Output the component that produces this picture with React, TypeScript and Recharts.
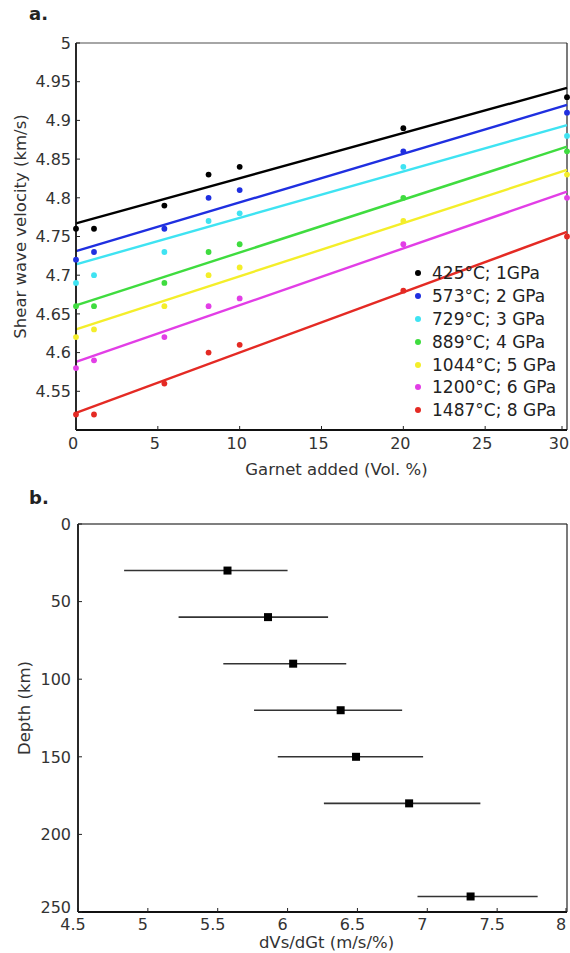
import { ComposedChart, Line, Scatter, XAxis, YAxis, ReferenceLine, Legend, ErrorBar } from 'recharts';

// panel a: shear wave velocity vs garnet added
const garnetAdded = [0, 1.1, 5.4, 8.1, 10, 20, 30];
const seriesNames = ['425°C; 1GPa', '573°C; 2 GPa', '729°C; 3 GPa', '889°C; 4 GPa', '1044°C; 5 GPa', '1200°C; 6 GPa', '1487°C; 8 GPa'];
const seriesColors = ['#000000', '#1f2fe0', '#3fe3f2', '#3fdc3f', '#f4ee2a', '#e23ee6', '#e42a24'];
const vs425 = [4.76, 4.76, 4.79, 4.83, 4.84, 4.89, 4.93];
const vs573 = [4.72, 4.73, 4.76, 4.80, 4.81, 4.86, 4.91];
const vs729 = [4.69, 4.70, 4.73, 4.77, 4.78, 4.84, 4.88];
const vs889 = [4.66, 4.66, 4.69, 4.73, 4.74, 4.80, 4.86];
const vs1044 = [4.62, 4.63, 4.66, 4.70, 4.71, 4.77, 4.83];
const vs1200 = [4.58, 4.59, 4.62, 4.66, 4.67, 4.74, 4.80];
const vs1487 = [4.52, 4.52, 4.56, 4.60, 4.61, 4.68, 4.75];
const velocities = [vs425, vs573, vs729, vs889, vs1044, vs1200, vs1487];
// fitted lines, read at x = 0 and x = 30
const fitRange = [0, 30];
const fitStart = [4.767, 4.731, 4.714, 4.661, 4.630, 4.588, 4.522];
const fitEnd = [4.942, 4.920, 4.894, 4.866, 4.836, 4.808, 4.756];
const velTicks = [4.55, 4.6, 4.65, 4.7, 4.75, 4.8, 4.85, 4.9, 4.95, 5];
const garnetTicks = [0, 5, 10, 15, 20, 25, 30];

// panel b: dVs/dGt vs depth
const depth = [30, 60, 90, 120, 150, 180, 240];
const dVsdGt = [5.57, 5.86, 6.04, 6.38, 6.49, 6.87, 7.31];
const rangeLow = [4.83, 5.22, 5.54, 5.76, 5.93, 6.26, 6.93];
const rangeHigh = [6.00, 6.29, 6.42, 6.82, 6.97, 7.38, 7.79];
const slopeTicks = [4.5, 5, 5.5, 6, 6.5, 7, 7.5, 8];
const depthTicks = [0, 50, 100, 150, 200, 250];

const FONT = '"DejaVu Sans", sans-serif';
const TEXT = '#333';

const series = seriesNames.map((name, i) => ({
  name,
  color: seriesColors[i],
  points: garnetAdded.map((x, j) => ({ x, y: velocities[i][j] })),
  fit: fitRange.map((x, k) => ({ x, y: k === 0 ? fitStart[i] : fitEnd[i] })),
}));

const depthData = depth.map((d, i) => ({
  x: dVsdGt[i],
  y: d,
  err: [dVsdGt[i] - rangeLow[i], rangeHigh[i] - dVsdGt[i]],
}));

// cornerLift nudges the last label up so it clears the x labels at the corner
const leftTick = (margin: number, cornerLift: number, lastValue: number) => (props: any) => {
  const { x, y, payload } = props;
  const lift = payload.value === lastValue ? cornerLift : 0;
  return (
    <g>
      <line x1={x + margin} x2={x + margin + 4} y1={y} y2={y} stroke="#222" strokeWidth={1} />
      <text x={x} y={y - lift} dy="0.36em" textAnchor="end" fontSize={16} fontFamily={FONT} fill={TEXT}>
        {payload.value}
      </text>
    </g>
  );
};

const bottomTick = (margin: number, shift: number) => (props: any) => {
  const { x, y, payload } = props;
  return (
    <g>
      <line x1={x} x2={x} y1={y - margin} y2={y - margin - 4} stroke="#222" strokeWidth={1} />
      <text x={x + shift} y={y} dy="0.74em" textAnchor="middle" fontSize={16} fontFamily={FONT} fill={TEXT}>
        {payload.value}
      </text>
    </g>
  );
};

const rotatedTitle = (value: string, cx: number, shift: number) => (props: any) => {
  const vb = props.viewBox;
  const cy = vb.y + vb.height / 2 + shift;
  return (
    <text
      transform={`translate(${cx}, ${cy}) rotate(-90)`}
      textAnchor="middle"
      dominantBaseline="central"
      fontSize={16.5}
      fontFamily={FONT}
      fill={TEXT}
    >
      {value}
    </text>
  );
};

const Dot = (color: string) => (props: any) => <circle cx={props.cx} cy={props.cy} r={2.9} fill={color} />;

const Square = (props: any) => <rect x={props.cx - 4} y={props.cy - 4} width={8} height={8} fill="#000" />;

function LegendBox() {
  return (
    <div style={{ fontFamily: FONT, fontSize: 17, color: '#222' }}>
      {series.map((s) => (
        <div key={s.name} style={{ display: 'flex', alignItems: 'center', height: 22.8, whiteSpace: 'nowrap' }}>
          <span style={{ width: 6, height: 6, borderRadius: 3, background: s.color, marginLeft: 3, marginRight: 11 }} />
          {s.name}
        </div>
      ))}
    </div>
  );
}

const panelLabel = (top: number): React.CSSProperties => ({
  position: 'absolute',
  left: 29,
  top,
  fontFamily: FONT,
  fontWeight: 'bold',
  fontSize: 18,
  lineHeight: '18px',
  color: '#222',
});

export default function App() {
  return (
    <div style={{ position: 'absolute', left: 0, top: 0, width: 570, height: 953, background: '#fff' }}>
      <div style={panelLabel(5)}>a.</div>
      <ComposedChart width={570} height={490} margin={{ top: 43, right: 3, bottom: 0, left: 0 }}>
        <XAxis
          dataKey="x"
          type="number"
          domain={[0, 30]}
          ticks={garnetTicks}
          height={60}
          tickSize={0}
          tickMargin={7}
          tick={bottomTick(7, -3)}
          axisLine={{ stroke: '#111', strokeWidth: 1.8 }}
          tickLine={false}
          label={{ value: 'Garnet added (Vol. %)', position: 'insideBottom', offset: 15, dx: 15, fontSize: 16.5, fontFamily: FONT, fill: TEXT }}
        />
        <YAxis
          dataKey="y"
          type="number"
          domain={[4.5, 5]}
          ticks={velTicks}
          width={76}
          tickSize={0}
          tickMargin={5}
          tick={leftTick(5, 0, 4.5)}
          axisLine={{ stroke: '#111', strokeWidth: 1.8 }}
          tickLine={false}
          allowDataOverflow
          label={{ content: rotatedTitle('Shear wave velocity (km/s)', 20, -10) }}
        />
        <ReferenceLine y={5} stroke="#888" strokeWidth={1.6} />
        <ReferenceLine x={30} stroke="#222" strokeWidth={1.2} />
        {series.map((s) => (
          <Line
            key={'fit' + s.name}
            data={s.fit}
            dataKey="y"
            stroke={s.color}
            strokeWidth={2.4}
            dot={false}
            legendType="none"
            isAnimationActive={false}
          />
        ))}
        {series.map((s) => (
          <Scatter key={'pt' + s.name} name={s.name} data={s.points} dataKey="y" fill={s.color} shape={Dot(s.color)} isAnimationActive={false} />
        ))}
        <Legend
          layout="vertical"
          align="center"
          verticalAlign="middle"
          content={() => <LegendBox />}
          wrapperStyle={{ left: 412, top: 262, width: 160, height: 'auto' }}
        />
      </ComposedChart>

      <div style={panelLabel(489)}>b.</div>
      <ComposedChart width={570} height={463} margin={{ top: 34, right: 3, bottom: 0, left: 0 }}>
        <XAxis
          dataKey="x"
          type="number"
          domain={[4.5, 8]}
          ticks={slopeTicks}
          height={41}
          tickSize={0}
          tickMargin={6}
          tick={bottomTick(6, -5)}
          axisLine={{ stroke: '#111', strokeWidth: 1.8 }}
          tickLine={false}
          label={{ value: 'dVs/dGt (m/s/%)', position: 'insideBottom', offset: 5, dx: 4, fontSize: 16.5, fontFamily: FONT, fill: TEXT }}
        />
        <YAxis
          dataKey="y"
          type="number"
          domain={[0, 250]}
          reversed
          ticks={depthTicks}
          width={78}
          tickSize={0}
          tickMargin={7}
          tick={leftTick(7, 5, 250)}
          axisLine={{ stroke: '#111', strokeWidth: 1.8 }}
          tickLine={false}
          label={{ content: rotatedTitle('Depth (km)', 24, -10) }}
        />
        <ReferenceLine y={0} stroke="#555" strokeWidth={1.6} />
        <ReferenceLine x={8} stroke="#222" strokeWidth={1.2} />
        <Scatter data={depthData} dataKey="y" fill="#000" shape={Square} isAnimationActive={false}>
          <ErrorBar dataKey="err" direction="x" width={0} stroke="#333" strokeWidth={1.6} />
        </Scatter>
      </ComposedChart>
    </div>
  );
}
